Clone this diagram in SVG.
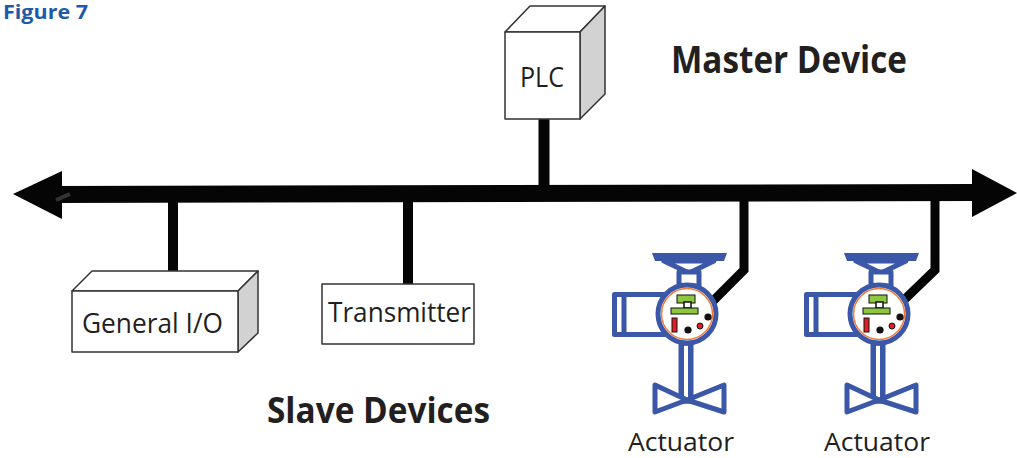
<svg xmlns="http://www.w3.org/2000/svg" width="1017" height="458" viewBox="0 0 1017 458">
<style>
.t{font-family:"Open Sans","Liberation Sans",sans-serif;fill:#231f20;}
.b{font-weight:bold;}
.box{fill:#fff;stroke:#333;stroke-width:1.5;stroke-linejoin:round;}
.side{fill:#d2d2d2;stroke:#333;stroke-width:1.5;stroke-linejoin:round;}
.bl{fill:#fff;stroke:#3b57a7;stroke-width:5;stroke-linejoin:round;}
.blf{fill:#3b57a7;}
.conn{stroke:#050505;fill:none;}
.gr{fill:#8dc63f;stroke:#111;stroke-width:1;}
.rd{fill:#e21f26;stroke:#111;stroke-width:1;}
</style>
<defs>
<g id="act">
<polygon class="blf" points="-35,-61 40,-61 37,-53 -32,-53"/>
<polygon class="bl" points="-23,-53 27,-53 2,-41"/>
<rect class="bl" x="-8" y="-42" width="20" height="14"/>
<rect class="bl" x="-72.5" y="-19.5" width="50" height="40"/>
<line x1="-63" y1="-19" x2="-63" y2="20" stroke="#3b57a7" stroke-width="5"/>
<rect class="bl" x="-5.75" y="29" width="9.5" height="58" style="stroke-width:5.5"/>
<polygon class="bl" points="-32,71 0,86 37,71 37,98 0,86 -32,98"/>
<circle class="bl" cx="0" cy="0" r="29"/>
<circle cx="0" cy="0" r="25.5" fill="#fff" stroke="#f07a3a" stroke-width="1.5"/>
<rect class="gr" x="-10" y="-19" width="18" height="8"/>
<rect x="-3" y="-12" width="7" height="6" fill="#fff" stroke="#111" stroke-width="1.5"/>
<rect class="gr" x="-16" y="-6" width="27" height="6"/>
<rect class="rd" x="-15" y="4" width="5" height="14"/>
<circle cx="1" cy="16" r="3.6" fill="#111"/>
<circle cx="21" cy="3" r="3.6" fill="#111"/>
<circle class="rd" cx="13" cy="12" r="3"/>
</g>
</defs>
<rect width="1017" height="458" fill="#fff"/>
<text class="t b" x="3" y="19" font-size="19" style="fill:#1f5aa6" textLength="85" lengthAdjust="spacingAndGlyphs">Figure 7</text>

<g id="connectors">
<line class="conn" x1="55" y1="194.5" x2="975" y2="192.5" stroke-width="17"/>
<polygon points="13,194 62,171 62,219" fill="#050505"/>
<polygon points="972,169 1017,193 972,217" fill="#050505"/>
<line x1="56" y1="200" x2="70" y2="194" stroke="#333" stroke-width="4"/>
<line class="conn" x1="544" y1="119" x2="544" y2="193" stroke-width="11"/>
<line class="conn" x1="173" y1="194" x2="173" y2="271" stroke-width="10"/>
<line class="conn" x1="408" y1="194" x2="408" y2="284" stroke-width="10"/>
<polyline class="conn" points="744,193 744,270 713,301" stroke-width="9"/>
<polyline class="conn" points="935,193 935,270 905,299" stroke-width="9"/>
</g>

<g id="plc">
<polygon class="box" points="505,32 530,6 605,6 580,32"/>
<polygon class="side" points="580,32 605,6 605,94 580,119"/>
<rect class="box" x="505" y="32" width="75" height="87"/>
<text class="t" x="520" y="87" font-size="27" textLength="44" lengthAdjust="spacingAndGlyphs">PLC</text>
</g>

<text class="t b" x="671" y="73" font-size="37" textLength="236" lengthAdjust="spacingAndGlyphs">Master Device</text>

<g id="general-io">
<polygon class="box" points="72,291 92,271 258,271 238,291"/>
<polygon class="side" points="238,291 258,271 258,333 238,352"/>
<rect class="box" x="72" y="291" width="166" height="61"/>
<text class="t" x="82" y="333" font-size="27" textLength="141" lengthAdjust="spacingAndGlyphs">General I/O</text>
</g>

<g id="transmitter">
<rect class="box" x="322" y="284" width="152" height="60"/>
<text class="t" x="328" y="322" font-size="27" textLength="143" lengthAdjust="spacingAndGlyphs">Transmitter</text>
</g>

<g id="actuator1">
<use href="#act" x="687" y="314"/>
<text class="t" x="628" y="451" font-size="26" textLength="106" lengthAdjust="spacingAndGlyphs">Actuator</text>
</g>

<g id="actuator2">
<use href="#act" x="879" y="314"/>
<text class="t" x="824" y="451" font-size="26" textLength="106" lengthAdjust="spacingAndGlyphs">Actuator</text>
</g>

<text class="t b" x="267" y="423" font-size="35" textLength="223" lengthAdjust="spacingAndGlyphs">Slave Devices</text>
</svg>
